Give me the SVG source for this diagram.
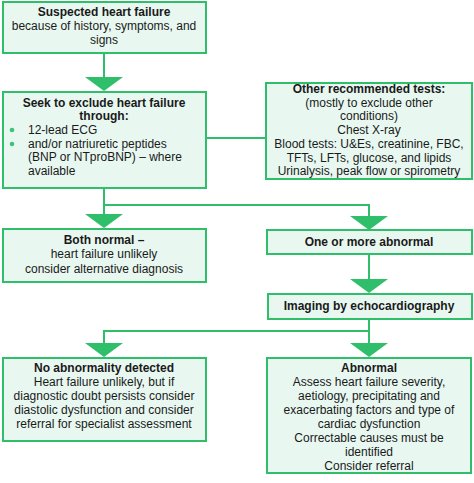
<svg xmlns="http://www.w3.org/2000/svg" width="474" height="483" viewBox="0 0 474 483">
<style>
.box{fill:#e8f8f1;stroke:#2fbf6b;stroke-width:2}
.ln{fill:none;stroke:#2fbf6b;stroke-width:2}
.ah{fill:#2fbf6b}
text{font-family:"Liberation Sans",Arial,sans-serif;font-size:12px;fill:#1a1a1a}
.c{text-anchor:middle}
.b{font-weight:bold}
.dot{fill:#3cc47a}
</style>
<rect width="474" height="483" fill="#ffffff"/>
<g id="connectors">
<path class="ln" d="M104 53V78"/>
<polygon class="ah" points="85,77 123,77 104,91"/>
<path class="ln" d="M206 138H266"/>
<path class="ln" d="M104 188V205H369V217"/>
<path class="ln" d="M104 205V215"/>
<polygon class="ah" points="85,214 123,214 104,228"/>
<polygon class="ah" points="350,216 388,216 369,230"/>
<path class="ln" d="M369 254V280"/>
<polygon class="ah" points="350,279 388,279 369,293"/>
<path class="ln" d="M369 319V331H104V344"/>
<path class="ln" d="M369 331V344"/>
<polygon class="ah" points="85,343 123,343 104,357"/>
<polygon class="ah" points="350,343 388,343 369,357"/>
</g>
<g id="n1">
<rect class="box" x="3" y="2" width="203" height="51"/>
<text class="c b" x="104" y="16">Suspected heart failure</text>
<text class="c" x="104" y="30">because of history, symptoms, and</text>
<text class="c" x="104" y="44">signs</text>
</g>
<g id="n2">
<rect class="box" x="3" y="92" width="203" height="96"/>
<text class="c b" x="104" y="107">Seek to exclude heart failure</text>
<text class="c b" x="104" y="120">through:</text>
<circle class="dot" cx="12" cy="130" r="2.3"/>
<circle class="dot" cx="12" cy="144" r="2.3"/>
<text x="28" y="134">12-lead ECG</text>
<text x="28" y="148">and/or natriuretic peptides</text>
<text x="28" y="161">(BNP or NTproBNP) – where</text>
<text x="28" y="175">available</text>
</g>
<g id="n3">
<rect class="box" x="266" y="83" width="206" height="96"/>
<text class="c b" x="369" y="93">Other recommended tests:</text>
<text class="c" x="369" y="107">(mostly to exclude other</text>
<text class="c" x="369" y="120">conditions)</text>
<text class="c" x="369" y="134">Chest X-ray</text>
<text class="c" x="369" y="148">Blood tests: U&amp;Es, creatinine, FBC,</text>
<text class="c" x="369" y="162">TFTs, LFTs, glucose, and lipids</text>
<text class="c" x="369" y="175">Urinalysis, peak flow or spirometry</text>
</g>
<g id="n4">
<rect class="box" x="3" y="229" width="203" height="53"/>
<text class="c b" x="104" y="244">Both normal –</text>
<text class="c" x="104" y="258">heart failure unlikely</text>
<text class="c" x="104" y="273">consider alternative diagnosis</text>
</g>
<g id="n5">
<rect class="box" x="267" y="230" width="205" height="24"/>
<text class="c b" x="369" y="246">One or more abnormal</text>
</g>
<g id="n6">
<rect class="box" x="268" y="294" width="204" height="25"/>
<text class="c b" x="369" y="310">Imaging by echocardiography</text>
</g>
<g id="n7">
<rect class="box" x="3" y="358" width="203" height="83"/>
<text class="c b" x="104" y="372">No abnormality detected</text>
<text class="c" x="104" y="386">Heart failure unlikely, but if</text>
<text class="c" x="104" y="400">diagnostic doubt persists consider</text>
<text class="c" x="104" y="414">diastolic dysfunction and consider</text>
<text class="c" x="104" y="428">referral for specialist assessment</text>
</g>
<g id="n8">
<rect class="box" x="267" y="358" width="204" height="115"/>
<text class="c b" x="369" y="372">Abnormal</text>
<text class="c" x="369" y="386">Assess heart failure severity,</text>
<text class="c" x="369" y="400">aetiology, precipitating and</text>
<text class="c" x="369" y="414">exacerbating factors and type of</text>
<text class="c" x="369" y="428">cardiac dysfunction</text>
<text class="c" x="369" y="442">Correctable causes must be</text>
<text class="c" x="369" y="456">identified</text>
<text class="c" x="369" y="470">Consider referral</text>
</g>
</svg>
